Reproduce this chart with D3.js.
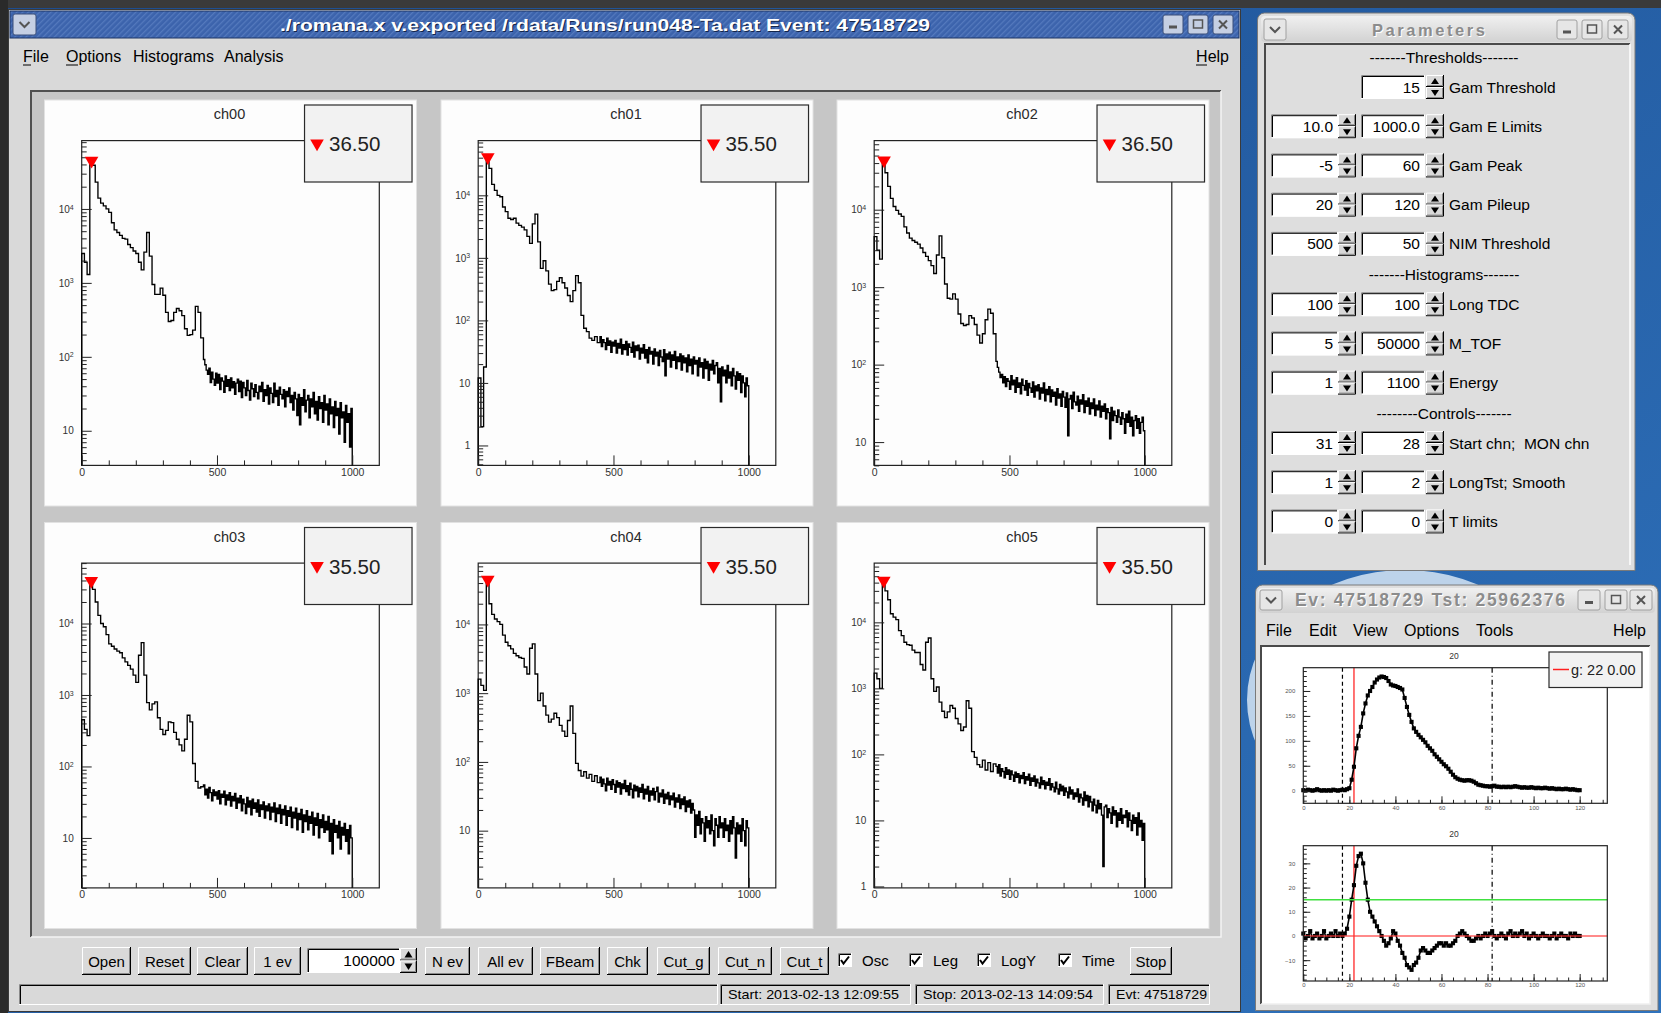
<!DOCTYPE html>
<html>
<head>
<meta charset="utf-8">
<script src="https://cdn.jsdelivr.net/npm/d3@7/dist/d3.min.js"></script>
<style>
  body { margin: 0; background: #2a62a8; overflow: hidden; }
  svg { display: block; }
  text { font-family: "Liberation Sans", Arial, sans-serif; }
</style>
</head>
<body>
<svg id="screen" width="1661" height="1013"></svg>
<script>
// ---------------- data ----------------
var chNames = ["ch00", "ch01", "ch02", "ch03", "ch04", "ch05"];
var peakPos = [36.5, 35.5, 36.5, 35.5, 35.5, 35.5]; // legend values
// spectra: 10-channel bins for channels 0..449,
// 5-channel bins for the noisy tail 450..999
var headBin = 10, tailBin = 5, tailStart = 450, lastChannel = 1000;
var ch00Head = [2500,1900,1300,48000,39000,23000,14000,12000,11000,10000,
                9000,6500,5200,4800,4400,4000,3900,3300,3000,2700,
                2500,1900,1500,2600,4800,2300,950,700,700,850,
                680,400,300,310,400,450,420,360,240,195,
                200,230,480,400,180];
var ch00Tail = [92,78,66,58,70,45,62,50,41,60, 44,58,36,52,47,33,55,40,49,35,
                52,38,46,31,44,50,34,47,28,45, 38,30,48,35,26,44,37,29,42,33,
                27,40,34,45,25,36,30,41,23,38, 32,24,44,29,35,22,39,31,27,36,
                21,34,29,38,24,30,19,33,27,16, 31,12,28,22,36,18,26,30,15,27,
                21,33,17,25,14,29,20,24,13,30, 19,23,12,27,17,21,11,25,16,20,
                9,24,15,18,7,22,13,17,6,20];
var ch01Head = [12,2,18,44000,27000,15000,12000,10000,9500,6500,
                5500,4300,4100,4300,3600,3300,3100,2800,2200,1700,
                3500,5000,1800,680,900,620,380,300,310,420,
                480,400,330,250,200,300,520,400,120,75,
                66,52,48,55,44];
var ch01Tail = [55,38,49,44,34,52,40,47,31,45, 39,48,30,43,36,50,29,41,34,46,
                28,42,37,31,45,26,39,33,40,24, 36,30,41,25,34,21,37,29,32,20,
                35,27,31,19,33,26,22,34,13,29, 24,31,18,28,23,32,17,26,22,29,
                16,27,21,25,15,28,19,24,14,26, 20,23,13,25,18,21,12,24,17,22,
                11,20,16,23,14,19,21,10,17,5, 18,13,16,10,19,12,15,9,17,13,
                8,15,11,14,7,13,10,6,12,9];
var ch02Head = [4500,3000,2300,46000,30000,20000,14000,11000,9800,8800,
                8200,6000,5000,4300,4000,3800,3600,3200,2800,2500,
                2200,1900,1500,2600,4600,2400,1100,720,700,820,
                700,450,340,320,330,430,400,330,240,190,
                250,380,520,460,250];
var ch02Tail = [110,92,80,68,75,58,70,52,66,61, 48,72,55,63,44,68,51,58,42,65,
                54,47,62,40,57,50,44,60,38,53, 46,55,36,50,43,58,34,48,41,52,
                33,47,39,44,30,49,37,42,29,45, 38,28,43,12,36,40,27,44,33,30,
                39,25,35,31,41,24,34,29,37,23, 32,27,36,22,30,26,34,21,29,25,
                31,20,27,24,11,28,19,25,22,18, 26,21,17,24,20,13,23,18,25,16,
                21,12,19,22,15,20,13,18,21,14];
var ch03Head = [450,330,270,42000,30000,20000,13000,10000,9000,7000,
                5200,4800,4400,4100,3900,3300,2900,2600,2300,1900,
                1500,3600,5400,1900,780,620,750,800,480,330,
                280,320,420,410,300,240,200,165,240,520,
                420,110,62,50,52];
var ch03Tail = [55,40,48,36,51,43,33,47,39,44, 35,46,30,41,37,45,29,40,34,43,
                28,38,33,42,26,36,31,39,24,35, 30,22,37,27,33,21,35,26,31,23,
                34,20,29,25,32,19,28,24,30,18, 27,23,31,17,26,22,29,16,25,21,
                28,15,24,20,27,14,23,19,26,13, 22,18,25,12,21,17,24,13,20,16,
                23,11,19,15,22,10,18,14,21,12, 17,13,20,9,16,6,18,12,15,10,
                17,7,14,11,16,9,13,6,15,10];
var ch04Head = [1600,1300,1100,48000,20000,14000,12000,11000,10000,7000,
                5500,4900,4400,3800,3500,3300,3200,2400,1900,4500,
                5200,1900,780,1000,650,480,380,420,510,440,
                340,280,235,400,650,260,95,75,62,72,
                58,66,52,63,50];
var ch04Tail = [60,44,56,48,38,58,46,52,40,55, 47,36,53,43,50,34,48,41,54,37,
                45,33,49,40,30,46,38,44,31,42, 36,47,29,40,34,44,27,38,33,41,
                28,37,43,26,35,31,39,25,34,29, 36,24,32,28,35,22,30,26,33,21,
                29,24,31,19,27,22,28,18,25,20, 8,17,12,19,9,15,13,7,16,11,
                14,9,17,10,6,15,12,8,16,11, 13,8,15,10,12,7,14,9,16,11,
                4,13,9,12,7,15,10,6,14,11];
var ch05Head = [1700,1400,1000,46000,30000,22000,13500,12000,11000,7500,
                6300,5000,4600,4500,3800,3500,3500,2300,1900,5000,
                5800,1400,900,1050,620,450,360,440,550,500,
                350,290,230,260,650,500,110,90,70,64,
                82,58,75,55,72];
var ch05Tail = [66,52,70,47,61,55,44,63,50,58, 42,56,49,39,54,45,51,37,48,43,
                53,36,46,41,50,34,44,39,47,33, 42,37,31,45,35,40,30,38,34,43,
                29,36,32,27,38,30,25,35,28,33, 24,31,27,22,32,25,29,21,26,23,
                30,19,25,22,17,27,20,24,16,23, 19,14,21,17,13,20,15,18,12,2,
                16,17,11,15,13,9,16,12,14,8, 13,10,15,9,12,11,14,8,13,10,
                7,12,9,11,6,13,8,10,5,9];
var histHeads = [ch00Head, ch01Head, ch02Head, ch03Head, ch04Head, ch05Head];
var histTails = [ch00Tail, ch01Tail, ch02Tail, ch03Tail, ch04Tail, ch05Tail];
var histYRange = [[3.4, 84000], [0.48, 75000], [5, 78000], [2.0, 70000], [1.47, 78000], [0.95, 79000]];
var histXRange = [0, 1100];
var histXMajor = [0, 500, 1000];

// oscilloscope view (Ev window), one sample per unit 0..120
var oscSignal = [1,0,2,1,0,1,3,1,0,1, 0,1,0,2,1,0,1,2,1,3,
                 5,22,48,85,110,128,155,175,191,200, 208,217,223,227,229,228,226,220,213,211,
                 210,208,206,203,186,168,152,138,125,118, 112,107,102,97,90,85,80,73,68,63,
                 58,53,49,44,38,32,27,24,22,21, 20,21,21,20,18,15,12,11,10,9,
                 9,8,9,10,8,8,7,8,7,8, 7,8,9,8,7,6,7,6,6,7,
                 6,5,6,5,5,6,5,4,5,4, 3,4,3,3,4,3,2,3,2,1, 1];
var oscDeriv = [1,-1,0,2,-1,0,1,-1,0,2, -1,0,1,0,2,0,1,0,1,3,
                8,15,21,29,33,34,30,22,15,10, 8,6,4,2,0,-2,-4,-3,-1,2,
                1,-2,-4,-7,-9,-12,-13,-14,-12,-11, -9,-6,-5,-6,-7,-7,-6,-5,-4,-3,
                -3,-4,-3,-4,-4,-3,-2,0,1,2, 1,0,-1,-2,-2,-1,0,-1,0,1,
                0,1,2,0,-1,0,1,0,-1,1, 2,0,1,0,1,2,0,1,-1,0,
                1,0,-1,0,1,0,0,-1,0,1, -1,0,1,0,0,-1,1,0,1,0, 0];
var oscTitle = "20";
var oscXRange = [0, 132];
var oscTopYRange = [-25.3, 246.7];
var oscBotYRange = [-18.6, 37.3];
var oscGateLo = 17, oscStart = 22, oscGateHi = 82; // vertical markers
var gamThreshold = 15;
var oscLegend = "g: 22 0.00";

// GUI texts
var mainTitle = "./romana.x v.exported /rdata/Runs/run048-Ta.dat Event: 47518729";
var evTitle = "Ev: 47518729 Tst: 25962376";
var buttonLabels = ["Open", "Reset", "Clear", "1 ev", "N ev", "All ev", "FBeam", "Chk", "Cut_g", "Cut_n", "Cut_t", "Stop"];
var checkLabels = ["Osc", "Leg", "LogY", "Time"];
var eventsEntry = "100000";
var statusTexts = ["", "Start: 2013-02-13 12:09:55", "Stop: 2013-02-13 14:09:54", "Evt: 47518729"];
var sectionTitles = ["-------Thresholds-------", "-------Histograms-------", "--------Controls-------"];
var paramLabels = ["Gam Threshold", "Gam E Limits", "Gam Peak", "Gam Pileup", "NIM Threshold",
                   "Long TDC", "M_TOF", "Energy", "Start chn;  MON chn", "LongTst; Smooth", "T limits"];
var paramA = [null, "10.0", "-5", "20", "500", "100", "5", "1", "31", "1", "0"];
var paramB = ["15", "1000.0", "60", "120", "50", "100", "50000", "1100", "28", "2", "0"];

// ---------------- helpers ----------------
var svg = d3.select("#screen");
var defs = svg.append("defs");

function line(g, d, color, w) {
    return g.append("path").attr("d", d).attr("fill", "none")
        .attr("stroke", color).attr("stroke-width", w || 1);
}

function raised(g, x, y, w, h, fill) {
    g.append("rect").attr("x", x).attr("y", y).attr("width", w).attr("height", h).attr("fill", fill || "#d9d9d9");
    line(g, `M${x + .5},${y + h - 1}V${y + .5}H${x + w - 1}`, "#ffffff");
    line(g, `M${x + w - .5},${y}V${y + h - .5}H${x}`, "#000000");
    line(g, `M${x + w - 1.5},${y + 1}V${y + h - 1.5}H${x + 1}`, "#8a8a8a");
}

function sunken(g, x, y, w, h, fill) {
    g.append("rect").attr("x", x).attr("y", y).attr("width", w).attr("height", h).attr("fill", fill || "#ffffff");
    line(g, `M${x + .5},${y + h}V${y + .5}H${x + w}`, "#8a8a8a");
    line(g, `M${x + 1.5},${y + h - 1}V${y + 1.5}H${x + w - 1}`, "#000000");
    line(g, `M${x + w - .5},${y}V${y + h - .5}H${x}`, "#ffffff");
}

function label(g, x, y, txt, size, anchor) {
    return g.append("text").attr("x", x).attr("y", y).attr("font-size", size || 15.5)
        .attr("text-anchor", anchor || "start").attr("fill", "#000").style("white-space", "pre").text(txt);
}

function button(g, x, y, w, h, txt) {
    raised(g, x, y, w, h);
    label(g, x + w / 2, y + h / 2 + 5.5, txt, 15, "middle");
}

function spinner(g, x, y, w, h) {
    raised(g, x, y, w, h / 2);
    raised(g, x, y + h / 2, w, h / 2);
    var cx = x + w / 2;
    g.append("path").attr("d", `M${cx - 4},${y + h / 2 - 3}L${cx},${y + 3}L${cx + 4},${y + h / 2 - 3}Z`).attr("fill", "#000");
    g.append("path").attr("d", `M${cx - 4},${y + h / 2 + 3}L${cx},${y + h - 3}L${cx + 4},${y + h / 2 + 3}Z`).attr("fill", "#000");
}

function numEntry(g, x, y, w, h, txt) {
    sunken(g, x, y, w, h, "#ffffff");
    label(g, x + w - 5, y + h / 2 + 5.5, txt, 15.5, "end");
}

function checkbox(g, x, y, txt) {
    sunken(g, x, y, 14, 14, "#ffffff");
    line(g, `M${x + 3},${y + 7}l2.5,3.5l5.5,-7`, "#000", 2);
    label(g, x + 24, y + 12.5, txt, 15);
}

function titleButtons(g, xs, y, w, h, fill, stroke) {
    var kinds = ["min", "max", "close"];
    xs.forEach(function(bx, k) {
        g.append("rect").attr("x", bx).attr("y", y).attr("width", w).attr("height", h).attr("rx", 2)
            .attr("fill", fill).attr("stroke", stroke);
        var cx = bx + w / 2, cy = y + h / 2;
        if (kinds[k] === "min") g.append("rect").attr("x", cx - 4).attr("y", cy + 1).attr("width", 8).attr("height", 3).attr("fill", "#555");
        if (kinds[k] === "max") g.append("rect").attr("x", cx - 4.5).attr("y", cy - 4.5).attr("width", 9).attr("height", 8)
            .attr("fill", "none").attr("stroke", "#555").attr("stroke-width", 1.5);
        if (kinds[k] === "close") line(g, `M${cx - 4},${cy - 4}L${cx + 4},${cy + 4}M${cx + 4},${cy - 4}L${cx - 4},${cy + 4}`, "#555", 2);
    });
}

function menuButton(g, x, y, w, h, fill, stroke) {
    g.append("rect").attr("x", x).attr("y", y).attr("width", w).attr("height", h).attr("rx", 2)
        .attr("fill", fill).attr("stroke", stroke);
    line(g, `M${x + w / 2 - 5},${y + h / 2 - 2.5}L${x + w / 2},${y + h / 2 + 2.5}L${x + w / 2 + 5},${y + h / 2 - 2.5}`, "#555", 2);
}

function styleAxis(sel, size, color) {
    sel.select(".domain").remove();
    sel.selectAll(".tick line").attr("stroke", "#222").attr("stroke-width", 1);
    sel.selectAll(".tick text").attr("font-size", size).attr("fill", color)
        .attr("font-family", "Liberation Sans, Arial, sans-serif");
}

// ---------------- desktop ----------------
var desk = defs.append("linearGradient").attr("id", "desk").attr("x1", 0).attr("y1", 0).attr("x2", 1).attr("y2", 1);
desk.append("stop").attr("offset", "0%").attr("stop-color", "#1c4c8f");
desk.append("stop").attr("offset", "100%").attr("stop-color", "#2f73bd");
svg.append("rect").attr("width", 1661).attr("height", 1013).attr("fill", "url(#desk)");
svg.append("ellipse").attr("cx", 1405).attr("cy", 700).attr("rx", 150).attr("ry", 122)
    .attr("fill", "none").attr("stroke", "#d7e6f5").attr("stroke-width", 16).attr("opacity", 0.85);
svg.append("rect").attr("width", 1661).attr("height", 8).attr("fill", "#3a3a3a");
svg.append("rect").attr("width", 8).attr("height", 1013).attr("fill", "#2a2a2a");

// ---------------- main window ----------------
var main = svg.append("g");
main.append("rect").attr("x", 8.5).attr("y", 9.5).attr("width", 1232).attr("height", 1002)
    .attr("fill", "#d9d9d9").attr("stroke", "#3a3a3a");

var hatch = defs.append("pattern").attr("id", "hatch").attr("width", 4).attr("height", 4)
    .attr("patternUnits", "userSpaceOnUse").attr("patternTransform", "rotate(45)");
hatch.append("rect").attr("width", 4).attr("height", 4).attr("fill", "#3c63ac");
hatch.append("rect").attr("width", 1.3).attr("height", 4).attr("fill", "#5479bd");
main.append("rect").attr("x", 10).attr("y", 11).attr("width", 1229).attr("height", 27)
    .attr("fill", "url(#hatch)").attr("stroke", "#1f3766");
menuButton(main, 13, 14, 23, 21, "#c5cfe3", "#3a4f7a");
titleButtons(main, [1163, 1188, 1213], 15, 20, 19, "#c5cfe3", "#3a4f7a");
main.append("text").attr("x", 281).attr("y", 32).attr("font-size", 17).attr("font-weight", "bold")
    .attr("fill", "#13254a").attr("textLength", 650).attr("lengthAdjust", "spacingAndGlyphs").text(mainTitle);
main.append("text").attr("x", 280).attr("y", 31).attr("font-size", 17).attr("font-weight", "bold")
    .attr("fill", "#ffffff").attr("textLength", 650).attr("lengthAdjust", "spacingAndGlyphs").text(mainTitle);

// menu bar
var menuItems = [["File", 23], ["Options", 66], ["Histograms", 133], ["Analysis", 224]];
menuItems.forEach(function(m) { label(main, m[1], 62, m[0], 16); });
label(main, 1229, 62, "Help", 16, "end");
line(main, "M23,65H31M66,65H78M1196,65H1207", "#000");

// canvas
main.append("rect").attr("x", 31).attr("y", 90).attr("width", 1190).attr("height", 847).attr("fill", "#c6c6c6");
line(main, "M31,937V91H1221", "#505050", 2);
line(main, "M1221,91V937H31", "#f4f4f4", 1.5);

// histogram pads
var padX = [44.5, 441, 837], padY = [100, 522.5], padW = 372, padH = 406;
var marker = d3.symbol().type(d3.symbolTriangle).size(80);

histHeads.forEach(function(head, i) {
    var tail = histTails[i];
    var g = main.append("g").attr("transform", `translate(${padX[i % 3]},${padY[Math.floor(i / 3)]})`);
    g.append("rect").attr("width", padW).attr("height", padH).attr("fill", "#fdfdfd").attr("stroke", "#e2e2e2");

    var fx0 = 0.1 * padW, fx1 = 0.9 * padW, fy0 = 0.1 * padH, fy1 = 0.9 * padH;
    var x = d3.scaleLinear().domain(histXRange).range([fx0, fx1]);
    var y = d3.scaleLog().domain(histYRange[i]).range([fy1, fy0]).clamp(true);
    var yMin = histYRange[i][0];

    g.append("text").attr("x", padW / 2 - 1).attr("y", 19).attr("font-size", 14.5).attr("fill", "#2a2a2a")
        .attr("text-anchor", "middle").text(chNames[i]);

    g.append("rect").attr("x", fx0).attr("y", fy0).attr("width", fx1 - fx0).attr("height", fy1 - fy0)
        .attr("fill", "none").attr("stroke", "#222").attr("stroke-width", 1.2);

    // histogram as steps
    var pts = [{c: 0, v: yMin}];
    head.forEach(function(v, k) { pts.push({c: k * headBin, v: v}); });
    tail.forEach(function(v, k) { pts.push({c: tailStart + k * tailBin, v: v}); });
    pts.push({c: lastChannel, v: tail[tail.length - 1]});
    pts.push({c: lastChannel, v: yMin});
    var histLine = d3.line().x(function(d) { return x(d.c); }).y(function(d) { return y(d.v); })
        .curve(d3.curveStepAfter);
    g.append("path").datum(pts).attr("d", histLine).attr("fill", "none")
        .attr("stroke", "#000").attr("stroke-width", 1.35);

    // x axis, ticks inside
    var xMinor = d3.range(100, histXRange[1], 100).filter(function(v) { return histXMajor.indexOf(v) < 0; });
    g.append("g").attr("transform", `translate(0,${fy1})`)
        .call(d3.axisBottom(x).tickValues(xMinor).tickSize(-5).tickFormat(""))
        .call(styleAxis, 10.5, "#333");
    g.append("g").attr("transform", `translate(0,${fy1})`)
        .call(d3.axisBottom(x).tickValues(histXMajor).tickSize(-10).tickPadding(3).tickFormat(d3.format("d")))
        .call(styleAxis, 10.5, "#333");

    // log y axis, ticks inside
    var lo = Math.floor(Math.log10(histYRange[i][0])), hi = Math.ceil(Math.log10(histYRange[i][1]));
    var decades = [], minors = [];
    for (var e = lo; e <= hi; e++) {
        var p = Math.pow(10, e);
        if (p >= histYRange[i][0] && p <= histYRange[i][1]) decades.push(p);
        for (var k = 2; k <= 9; k++) {
            if (k * p >= histYRange[i][0] && k * p <= histYRange[i][1]) minors.push(k * p);
        }
    }
    g.append("g").attr("transform", `translate(${fx0},0)`)
        .call(d3.axisLeft(y).tickValues(minors).tickSize(-5).tickFormat(""))
        .call(styleAxis, 10, "#333");
    var yAx = g.append("g").attr("transform", `translate(${fx0},0)`)
        .call(d3.axisLeft(y).tickValues(decades).tickSize(-10).tickPadding(8))
        .call(styleAxis, 10, "#333");
    yAx.selectAll(".tick text").each(function(d) {
        var ex = Math.round(Math.log10(d));
        var t = d3.select(this).text(null);
        if (ex === 0) t.text("1");
        else if (ex === 1) t.text("10");
        else {
            t.append("tspan").text("10");
            t.append("tspan").attr("dy", "-0.45em").attr("font-size", 7).text(ex);
        }
    });

    // peak marker
    var peak = d3.max(head);
    g.append("path").attr("d", marker)
        .attr("transform", `translate(${x(peakPos[i])},${y(peak) + 2}) rotate(180)`).attr("fill", "#ff0000");

    // legend
    var lx = 0.699 * padW, ly = 5, lw = 107.5, lh = 77;
    g.append("rect").attr("x", lx).attr("y", ly).attr("width", lw).attr("height", lh)
        .attr("fill", "#f2f2f2").attr("stroke", "#2a2a2a").attr("stroke-width", 1.2);
    g.append("path").attr("d", marker)
        .attr("transform", `translate(${lx + 12.5},${ly + 38.5}) rotate(180)`).attr("fill", "#ff0000");
    g.append("text").attr("x", lx + 24.5).attr("y", ly + 46).attr("font-size", 20.5).attr("fill", "#222")
        .text(peakPos[i].toFixed(2));
});

// bottom control row
var btnX = [82, 138, 197, 254, 425, 478, 540, 607, 657, 718, 780, 1130];
var btnW = [49, 53, 51, 47, 45, 55, 60, 41, 53, 54, 49, 42];
buttonLabels.forEach(function(b, k) { button(main, btnX[k], 947, btnW[k], 28, b); });
numEntry(main, 307, 948, 93, 25, eventsEntry);
spinner(main, 400, 948, 17, 25);
var checkX = [838, 909, 977, 1058];
checkLabels.forEach(function(c, k) { checkbox(main, checkX[k], 953, c); });

// status bar
var statX = [19, 720, 915, 1108], statW = [699, 191, 189, 102], statLen = [0, 171, 170, 91];
statusTexts.forEach(function(s, k) {
    sunken(main, statX[k], 984, statW[k], 21, "#d9d9d9");
    if (s) main.append("text").attr("x", statX[k] + 8).attr("y", 999).attr("font-size", 13)
        .attr("textLength", statLen[k]).attr("lengthAdjust", "spacingAndGlyphs").text(s);
});

// ---------------- parameters window ----------------
var par = svg.append("g");
par.append("path").attr("d", "M1257.5,570.5V20a7,7 0 0 1 7,-7H1628a7,7 0 0 1 7,7V570.5Z")
    .attr("fill", "#dedede").attr("stroke", "#7a7a7a");
var inact = defs.append("linearGradient").attr("id", "inact").attr("x1", 0).attr("y1", 0).attr("x2", 0).attr("y2", 1);
inact.append("stop").attr("offset", "0%").attr("stop-color", "#f0f0f0");
inact.append("stop").attr("offset", "100%").attr("stop-color", "#d2d2d2");
par.append("rect").attr("x", 1261).attr("y", 16).attr("width", 371).attr("height", 26).attr("rx", 4).attr("fill", "url(#inact)");
menuButton(par, 1264, 19, 22, 21, "#e6e6e6", "#a0a0a0");
titleButtons(par, [1557, 1582, 1608], 20, 20, 19, "#e6e6e6", "#a0a0a0");
par.append("text").attr("x", 1373).attr("y", 37).attr("font-size", 16.5).attr("font-weight", "bold").attr("fill", "#ffffff")
    .attr("textLength", 113).attr("lengthAdjust", "spacing").text("Parameters");
par.append("text").attr("x", 1372).attr("y", 36).attr("font-size", 16.5).attr("font-weight", "bold").attr("fill", "#8c8c8c")
    .attr("textLength", 113).attr("lengthAdjust", "spacing").text("Parameters");
line(par, "M1265,565V44H1630", "#4a4a4a", 2);
line(par, "M1630,44V565", "#ffffff", 1.5);

var rowY = 57, section = 0;
label(par, 1444, rowY + 5.5, sectionTitles[section++], 15.5, "middle");
paramLabels.forEach(function(lab, i) {
    if (i === 5 || i === 8) {
        rowY += 30.4;
        label(par, 1444, rowY + 5.5, sectionTitles[section++], 15.5, "middle");
        rowY += 30;
    } else if (i === 0) {
        rowY += 30;
    } else {
        rowY += 39.2;
    }
    var top = rowY - 12;
    if (paramA[i] !== null) {
        numEntry(par, 1271, top, 67, 24, paramA[i]);
        spinner(par, 1338, top, 18, 24);
    }
    numEntry(par, 1361, top, 64, 24, paramB[i]);
    spinner(par, 1426, top, 18, 24);
    label(par, 1449, rowY + 5.5, lab, 15.5);
});

// ---------------- event window ----------------
var ev = svg.append("g");
ev.append("path").attr("d", "M1255.5,1010.5V592a7,7 0 0 1 7,-7H1651a7,7 0 0 1 7,7V1010.5Z")
    .attr("fill", "#dedede").attr("stroke", "#7a7a7a");
ev.append("rect").attr("x", 1258).attr("y", 588).attr("width", 397).attr("height", 25).attr("rx", 4).attr("fill", "url(#inact)");
menuButton(ev, 1260, 590, 22, 20, "#e6e6e6", "#a0a0a0");
titleButtons(ev, [1578, 1605, 1630], 590, 22, 20, "#e6e6e6", "#a0a0a0");
ev.append("text").attr("x", 1296).attr("y", 607).attr("font-size", 17.5).attr("font-weight", "bold").attr("fill", "#ffffff")
    .attr("textLength", 270).attr("lengthAdjust", "spacing").text(evTitle);
ev.append("text").attr("x", 1295).attr("y", 606).attr("font-size", 17.5).attr("font-weight", "bold").attr("fill", "#8c8c8c")
    .attr("textLength", 270).attr("lengthAdjust", "spacing").text(evTitle);
var evMenu = [["File", 1266], ["Edit", 1309], ["View", 1353], ["Options", 1404], ["Tools", 1476]];
evMenu.forEach(function(m) { label(ev, m[1], 636, m[0], 16); });
label(ev, 1646, 636, "Help", 16, "end");
ev.append("rect").attr("x", 1260).attr("y", 645).attr("width", 390).attr("height", 359).attr("fill", "#ffffff");
line(ev, "M1261,1004V646H1650", "#4a4a4a", 2);
line(ev, "M1650,646V1004H1261", "#f0f0f0", 1.5);

var oscX = d3.scaleLinear().domain(oscXRange).range([1303.3, 1607.3]);
var dot = d3.symbol().type(d3.symbolSquare).size(17);

function oscPlot(top, bottom, yRange, values, yMajor, yMinor, horiz) {
    var g = ev.append("g");
    var y = d3.scaleLinear().domain(yRange).range([bottom, top]);
    g.append("text").attr("x", 1454).attr("y", top - 9).attr("font-size", 8.5).attr("fill", "#333")
        .attr("text-anchor", "middle").text(oscTitle);

    var vert = [{v: oscGateLo, color: "#000", dash: "4,3"}, {v: oscStart, color: "#ff5050", dash: null},
                {v: oscGateHi, color: "#000", dash: "5,3,1,3"}];
    vert.forEach(function(m) {
        g.append("line").attr("x1", oscX(m.v)).attr("x2", oscX(m.v)).attr("y1", top).attr("y2", bottom)
            .attr("stroke", m.color).attr("stroke-width", m.dash ? 1.2 : 1.6).attr("stroke-dasharray", m.dash);
    });

    var pts = values.map(function(v, k) { return [k, v]; });
    g.append("path").datum(pts)
        .attr("d", d3.line().x(function(d) { return oscX(d[0]); }).y(function(d) { return y(d[1]); }))
        .attr("fill", "none").attr("stroke", "#000").attr("stroke-width", 1.6);
    g.selectAll(".pt").data(pts).enter().append("path").attr("d", dot)
        .attr("transform", function(d) { return `translate(${oscX(d[0])},${y(d[1])})`; }).attr("fill", "#000");

    // threshold and baseline lines drawn over the trace, as in the picture
    horiz.forEach(function(h) {
        g.append("line").attr("x1", oscX(oscXRange[0])).attr("x2", oscX(oscXRange[1]))
            .attr("y1", y(h.v)).attr("y2", y(h.v)).attr("stroke", h.color).attr("stroke-width", 1.5)
            .attr("opacity", h.opacity || 1);
    });

    g.append("rect").attr("x", oscX(oscXRange[0])).attr("y", top)
        .attr("width", oscX(oscXRange[1]) - oscX(oscXRange[0])).attr("height", bottom - top)
        .attr("fill", "none").attr("stroke", "#222").attr("stroke-width", 1.2);

    g.append("g").attr("transform", `translate(0,${bottom})`)
        .call(d3.axisBottom(oscX).tickValues(d3.range(5, 131, 5)).tickSize(-3.5).tickFormat(""))
        .call(styleAxis, 6, "#555");
    g.append("g").attr("transform", `translate(0,${bottom})`)
        .call(d3.axisBottom(oscX).tickValues(d3.range(0, 121, 20)).tickSize(-7).tickPadding(2))
        .call(styleAxis, 6, "#555");
    var yLo = Math.ceil(yRange[0] / yMinor) * yMinor;
    g.append("g").attr("transform", `translate(${oscX(oscXRange[0])},0)`)
        .call(d3.axisLeft(y).tickValues(d3.range(yLo, yRange[1], yMinor)).tickSize(-3.5).tickFormat(""))
        .call(styleAxis, 6, "#555");
    var yMj = Math.ceil(yRange[0] / yMajor) * yMajor;
    g.append("g").attr("transform", `translate(${oscX(oscXRange[0])},0)`)
        .call(d3.axisLeft(y).tickValues(d3.range(yMj, yRange[1], yMajor)).tickSize(-7).tickPadding(8))
        .call(styleAxis, 6, "#555");
}

oscPlot(667.7, 803.3, oscTopYRange, oscSignal, 50, 10, []);
oscPlot(845.7, 981, oscBotYRange, oscDeriv, 10, 2,
        [{v: gamThreshold, color: "#40e040"}, {v: 0, color: "#ff3030", opacity: 0.75}]);

// legend of the event view
ev.append("rect").attr("x", 1549).attr("y", 652).attr("width", 93).attr("height", 35.5)
    .attr("fill", "#f2f2f2").attr("stroke", "#2a2a2a").attr("stroke-width", 1.2);
line(ev, "M1553,669.5H1569", "#ff2020", 1.5);
ev.append("text").attr("x", 1571).attr("y", 674.5).attr("font-size", 14.5).attr("fill", "#222").text(oscLegend);
</script>
</body>
</html>
